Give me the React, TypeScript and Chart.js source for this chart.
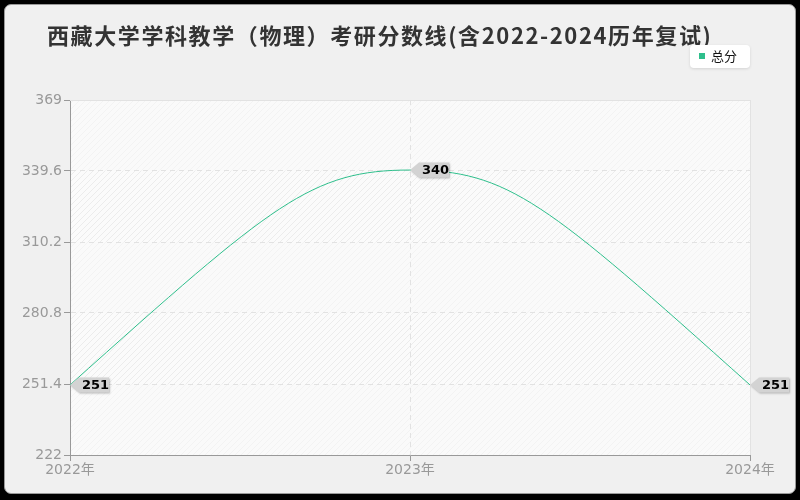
import { useEffect, useRef } from "react";
import { Chart, registerables } from "chart.js";

Chart.register(...registerables);

const titleText = "西藏大学学科教学（物理）考研分数线(含2022-2024历年复试)";
const seriesName = "总分";
const years = ["2022年", "2023年", "2024年"];
const scores = [251, 340, 251];
const yTicks = [222, 251.4, 280.8, 310.2, 339.6, 369];

const lineColor = "#2fbf8c";

function makePattern(ctx: CanvasRenderingContext2D, base: string, stripe: string) {
  const c = document.createElement("canvas");
  c.width = 6;
  c.height = 6;
  const p = c.getContext("2d")!;
  p.fillStyle = base;
  p.fillRect(0, 0, 6, 6);
  p.strokeStyle = stripe;
  p.lineWidth = 1;
  p.beginPath();
  p.moveTo(0, 6);
  p.lineTo(6, 0);
  p.moveTo(-3, 3);
  p.lineTo(3, -3);
  p.moveTo(3, 9);
  p.lineTo(9, 3);
  p.stroke();
  return ctx.createPattern(c, "repeat");
}

// reshape the bezier handles so the curve leaves the ends steeply and flattens at the peak
const smoothPlugin = {
  id: "smoothCurve",
  afterDatasetsUpdate(chart: Chart) {
    const meta = chart.getDatasetMeta(0);
    const line: any = meta.dataset;
    if (!line) return;
    line.updateControlPoints(chart.chartArea, "x");
    const pts: any[] = meta.data as any[];
    pts.forEach((p, i) => {
      const prev = pts[i - 1];
      const next = pts[i + 1];
      if (!prev && next) {
        p.cp2x = p.x + 0.6 * (next.x - p.x);
        p.cp2y = p.y + 0.85 * (next.y - p.y);
      } else if (prev && !next) {
        p.cp1x = p.x + 0.6 * (prev.x - p.x);
        p.cp1y = p.y + 0.85 * (prev.y - p.y);
      } else if (prev && next) {
        p.cp1x = p.x - 0.145 * (next.x - prev.x);
        p.cp1y = p.y - 0.145 * (next.y - prev.y);
        p.cp2x = p.x + 0.145 * (next.x - prev.x);
        p.cp2y = p.y + 0.145 * (next.y - prev.y);
      }
    });
    line._path = undefined;
  },
};

const decorPlugin = {
  id: "decor",
  beforeDraw(chart: Chart) {
    const { ctx, chartArea } = chart;
    const y = chart.scales.y;
    const light = makePattern(ctx, "#fafafa", "#f3f3f3");
    const dark = makePattern(ctx, "#fbfbfb", "#ececec");
    ctx.save();
    for (let i = 0; i < yTicks.length - 1; i++) {
      const top = y.getPixelForValue(yTicks[i + 1]);
      const bottom = y.getPixelForValue(yTicks[i]);
      ctx.fillStyle = (i % 2 === 0 ? light : dark) as CanvasPattern;
      ctx.fillRect(chartArea.left, top, chartArea.right - chartArea.left, bottom - top);
    }
    ctx.restore();
  },
  afterDraw(chart: Chart) {
    const { ctx, chartArea } = chart;
    ctx.save();
    // plot frame, top and right
    ctx.strokeStyle = "#e2e2e2";
    ctx.lineWidth = 1;
    ctx.setLineDash([]);
    ctx.beginPath();
    ctx.moveTo(chartArea.left, chartArea.top + 0.5);
    ctx.lineTo(chartArea.right + 0.5, chartArea.top + 0.5);
    ctx.lineTo(chartArea.right + 0.5, chartArea.bottom);
    ctx.stroke();

    // title
    ctx.fillStyle = "#333";
    ctx.font = "bold 22px 'Noto Sans CJK SC', sans-serif";
    (ctx as any).letterSpacing = "1.6px";
    ctx.textBaseline = "middle";
    ctx.textAlign = "left";
    ctx.fillText(titleText, 47, 36);
    (ctx as any).letterSpacing = "0px";

    // legend box
    ctx.shadowColor = "rgba(0,0,0,0.12)";
    ctx.shadowBlur = 3;
    ctx.shadowOffsetY = 1;
    ctx.fillStyle = "#fff";
    ctx.beginPath();
    ctx.roundRect(690, 45, 60, 23, 4);
    ctx.fill();
    ctx.shadowColor = "transparent";
    ctx.fillStyle = lineColor;
    ctx.fillRect(699, 53, 6, 6);
    ctx.fillStyle = "#111";
    ctx.font = "13px 'Noto Sans CJK SC', sans-serif";
    ctx.fillText(seriesName, 711, 56.5);

    // value tags
    const meta = chart.getDatasetMeta(0);
    meta.data.forEach((pt, i) => {
      const px = pt.x;
      const py = pt.y;
      ctx.shadowColor = "rgba(0,0,0,0.25)";
      ctx.shadowBlur = 2;
      ctx.shadowOffsetX = 1;
      ctx.shadowOffsetY = 1;
      ctx.fillStyle = "#d3d3d3";
      ctx.beginPath();
      ctx.moveTo(px, py);
      ctx.lineTo(px + 9, py - 7.5);
      ctx.lineTo(px + 39, py - 7.5);
      ctx.lineTo(px + 39, py + 7.5);
      ctx.lineTo(px + 9, py + 7.5);
      ctx.closePath();
      ctx.fill();
      ctx.shadowColor = "transparent";
      ctx.fillStyle = "#000";
      ctx.font = "bold 13px 'DejaVu Sans', sans-serif";
      ctx.fillText(String(scores[i]), px + 12, py + 0.5);
    });
    ctx.restore();
  },
};

export default function App() {
  const chartRef = useRef<HTMLCanvasElement>(null);
  const chartInstance = useRef<Chart | null>(null);

  useEffect(() => {
    if (!chartRef.current) return;
    const ctx = chartRef.current.getContext("2d");
    if (!ctx) return;

    if (chartInstance.current) {
      chartInstance.current.destroy();
    }

    const tickFont = { size: 14, family: "'DejaVu Sans', 'Noto Sans CJK SC', sans-serif" };

    chartInstance.current = new Chart(ctx, {
      type: "line",
      data: {
        labels: years,
        datasets: [{
          label: seriesName,
          data: scores,
          borderColor: lineColor,
          borderWidth: 1,
          pointRadius: 0,
          tension: 0.4,
          fill: false,
        }],
      },
      options: {
        responsive: false,
        animation: false,
        layout: {
          padding: { left: 8, right: 50, top: 100, bottom: 0 },
        },
        plugins: {
          legend: { display: false },
          title: { display: false },
          tooltip: { enabled: false },
        },
        scales: {
          x: {
            offset: false,
            afterFit: (s: any) => { s.height = 45; },
            grid: {
              color: "#e2e2e2",
              tickColor: "#999",
              tickLength: 6,
            },
            border: { color: "#999", dash: [5, 4] },
            ticks: {
              color: "#999",
              padding: 1,
              maxRotation: 0,
              font: tickFont,
            },
          },
          y: {
            min: yTicks[0],
            max: yTicks[yTicks.length - 1],
            afterFit: (s: any) => { s.width = 62; },
            afterBuildTicks: (axis: any) => {
              axis.ticks = yTicks.map(v => ({ value: v }));
            },
            grid: {
              color: "#e2e2e2",
              tickColor: "#999",
              tickLength: 6,
            },
            border: { color: "#999", dash: [5, 4] },
            ticks: {
              color: "#999",
              padding: 2,
              font: tickFont,
              callback: (v: any) => String(v),
            },
          },
        },
      },
      plugins: [smoothPlugin, decorPlugin],
    });

    return () => {
      if (chartInstance.current) {
        chartInstance.current.destroy();
        chartInstance.current = null;
      }
    };
  }, []);

  return (
    <div style={{ position: "fixed", left: 0, top: 0, width: 800, height: 500, background: "#000" }}>
      <div
        style={{
          position: "absolute",
          left: 4,
          top: 4,
          width: 790,
          height: 488,
          background: "#f0f0f0",
          border: "1px solid #9a9a9a",
          borderRadius: 7,
        }}
      />
      <canvas ref={chartRef} width={800} height={500} style={{ position: "absolute", left: 0, top: 0, width: 800, height: 500 }} />
    </div>
  );
}
